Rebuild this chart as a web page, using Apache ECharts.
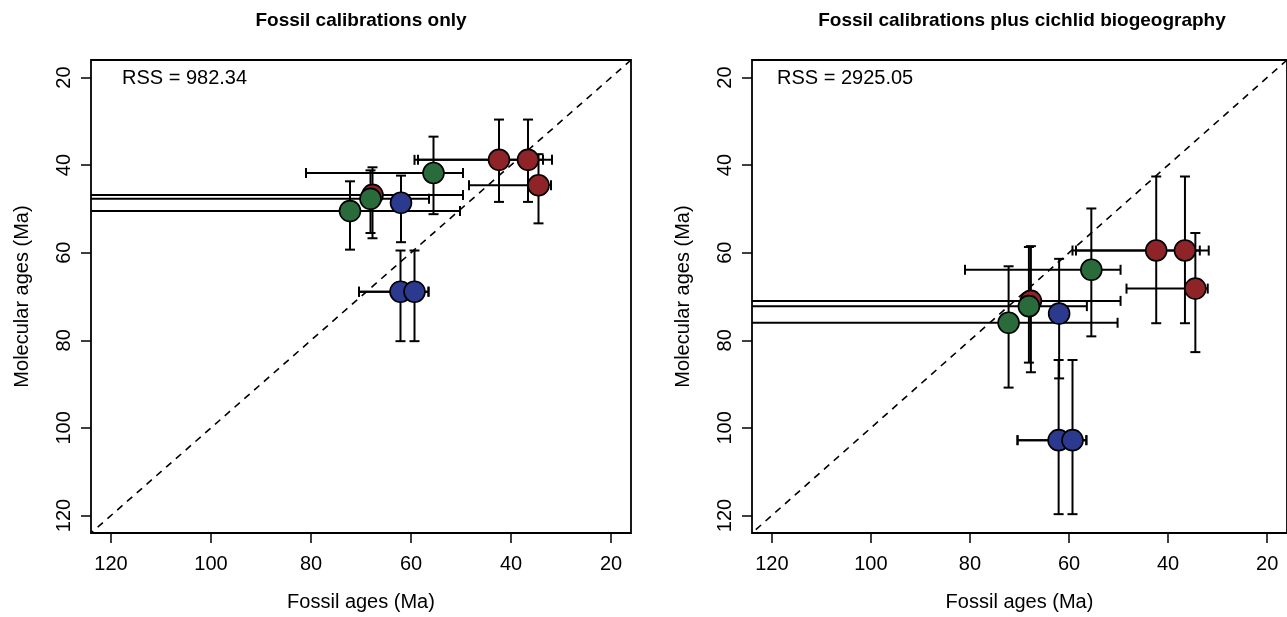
<!DOCTYPE html>
<html>
<head>
<meta charset="utf-8">
<script src="https://cdn.jsdelivr.net/npm/echarts@6/dist/echarts.min.js"></script>
<style>
html,body{margin:0;padding:0;background:#fff;}
#chart{width:1287px;height:617px;}
</style>
</head>
<body>
<div id="chart"></div>
<script>
// ---- data ----
const pointNames  = ['A1','A2','A3','A4','G1','G2','G3','B1','B2','B3'];
const pointGroup  = ['red','red','red','red','green','green','green','blue','blue','blue'];
const fossilAge   = [42.4, 36.6, 34.5, 67.7, 55.5, 68.1, 72.2, 62.0, 62.1, 59.3];
const fossilOld   = [59.3, 58.6, 48.4, 150,  81.0, 150,  150,  null, 70.4, 70.4];
const fossilYoung = [33.6, 31.8, 32.0, 49.6, 49.6, 56.4, 50.2, null, 56.5, 56.5];
// panel 1: fossil calibrations only
const molOnly     = [38.8, 38.8, 44.6, 46.8, 41.8, 47.7, 50.5, 48.6, 68.9, 68.9];
const molOnlyLo   = [29.6, 29.6, 37.5, 40.5, 33.5, 41.2, 43.7, 42.4, 59.5, 59.5];
const molOnlyHi   = [48.4, 48.4, 53.3, 56.7, 51.2, 55.5, 59.3, 57.6, 80.2, 80.2];
// panel 2: fossil calibrations plus cichlid biogeography
const molBio      = [59.5, 59.5, 68.2, 71.0, 63.9, 72.2, 76.0, 73.9, 102.8, 102.8];
const molBioLo    = [42.6, 42.6, 55.5, 58.5, 49.9, 58.7, 63.1, 61.4, 84.5, 84.5];
const molBioHi    = [76.1, 76.1, 82.7, 87.3, 79.1, 85.1, 90.8, 88.7, 119.7, 119.7];
const tickValues  = [20, 40, 60, 80, 100, 120];
const panelTitles = ['Fossil calibrations only', 'Fossil calibrations plus cichlid biogeography'];
const rssLabels   = ['RSS = 982.34', 'RSS = 2925.05'];
const axisRange   = [16, 124];

const groupColors = {red:'#8E2427', green:'#2A6B3B', blue:'#2B3A8F'};
const FONT = "'Liberation Sans', Arial, Helvetica, sans-serif";

const chart = echarts.init(document.getElementById('chart'), null, {renderer:'canvas'});

const gridLeft = [91, 752];
const gridTop = 60, gridW = 540, gridH = 478;

function xAxisDef(i){
  return {
    gridIndex:i, type:'value', min:axisRange[0], max:axisRange[1], inverse:true,
    axisLine:{show:false},
    axisTick:{show:true, length:10, customValues:tickValues, lineStyle:{color:'#000', width:1.5}},
    axisLabel:{customValues:tickValues, fontSize:20, color:'#000', fontFamily:FONT, margin:21},
    splitLine:{show:false},
    name:'Fossil ages (Ma)', nameLocation:'middle', nameGap:59,
    nameTextStyle:{fontSize:20, color:'#000', fontFamily:FONT}
  };
}
function yAxisDef(i){
  return {
    gridIndex:i, type:'value', min:axisRange[0], max:axisRange[1], inverse:true,
    axisLine:{show:false},
    axisTick:{show:true, length:10, customValues:tickValues, lineStyle:{color:'#000', width:1.5}},
    axisLabel:{customValues:tickValues, fontSize:20, color:'#000', fontFamily:FONT, margin:17, rotate:90},
    splitLine:{show:false},
    name:'Molecular ages (Ma)', nameLocation:'middle', nameGap:59,
    nameTextStyle:{fontSize:20, color:'#000', fontFamily:FONT}
  };
}

function barSeries(i, mol, lo, hi){
  const data = fossilAge.map((x,k)=>[x, mol[k],
      fossilOld[k]==null?NaN:fossilOld[k], fossilYoung[k]==null?NaN:fossilYoung[k], lo[k], hi[k]]);
  return {
    type:'custom', xAxisIndex:i, yAxisIndex:i, z:2, silent:true,
    data:data,
    renderItem:function(params, api){
      const cs = params.coordSys;
      const xmin = cs.x, xmax = cs.x + cs.width, ymin = cs.y, ymax = cs.y + cs.height;
      const x = api.value(0), y = api.value(1);
      const c = api.coord([x, y]);
      const cap = 5;
      const st = {stroke:'#000', lineWidth:2, fill:null};
      const ch = [];
      const seg = (x1,y1,x2,y2)=>ch.push({type:'line', shape:{x1:x1,y1:y1,x2:x2,y2:y2}, style:st});
      const lo = api.value(4), hi = api.value(5);
      if (isFinite(lo) && isFinite(hi)) {
        let p1 = api.coord([x, lo])[1], p2 = api.coord([x, hi])[1];
        let cap1 = true, cap2 = true;
        if (p1 < ymin) {p1 = ymin; cap1 = false;}
        if (p2 > ymax) {p2 = ymax; cap2 = false;}
        seg(c[0], p1, c[0], p2);
        if (cap1) seg(c[0]-cap, p1, c[0]+cap, p1);
        if (cap2) seg(c[0]-cap, p2, c[0]+cap, p2);
      }
      const xo = api.value(2), xy = api.value(3);
      if (isFinite(xo) && isFinite(xy)) {
        let q1 = api.coord([xo, y])[0], q2 = api.coord([xy, y])[0];
        let cap1 = true, cap2 = true;
        if (q1 < xmin) {q1 = xmin; cap1 = false;}
        if (q2 > xmax) {q2 = xmax; cap2 = false;}
        seg(q1, c[1], q2, c[1]);
        if (cap1) seg(q1, c[1]-cap, q1, c[1]+cap);
        if (cap2) seg(q2, c[1]-cap, q2, c[1]+cap);
      }
      return {type:'group', children:ch};
    }
  };
}

function pointSeries(i, mol, group){
  const data = [];
  fossilAge.forEach((x,k)=>{ if (pointGroup[k]===group) data.push([x, mol[k]]); });
  return {
    type:'scatter', xAxisIndex:i, yAxisIndex:i, z:3, silent:true,
    symbol:'circle', symbolSize:21, data:data,
    itemStyle:{color:groupColors[group], borderColor:'#000', borderWidth:1.6, opacity:1}
  };
}

function diagSeries(i){
  return {
    type:'line', xAxisIndex:i, yAxisIndex:i, z:1, silent:true, showSymbol:false, symbol:'none',
    data:[[axisRange[0], axisRange[0]], [axisRange[1], axisRange[1]]],
    lineStyle:{color:'#000', width:1.6, type:[7,6]}
  };
}

const series = [];
[[molOnly, molOnlyLo, molOnlyHi],[molBio, molBioLo, molBioHi]].forEach((m,i)=>{
  series.push(diagSeries(i));
  series.push(barSeries(i, m[0], m[1], m[2]));
  ['red','green','blue'].forEach(g=>series.push(pointSeries(i, m[0], g)));
});

const graphics = [];
[0,1].forEach(i=>{
  graphics.push({type:'text', silent:true, style:{
    text:panelTitles[i], x:gridLeft[i]+gridW/2, y:21,
    font:'bold 19px '+FONT, fill:'#000',
    align:'center', verticalAlign:'middle', textAlign:'center', textVerticalAlign:'middle'}});
  graphics.push({type:'text', silent:true, style:{
    text:rssLabels[i], x:gridLeft[i]+31 - (i?6:0), y:78,
    font:'20px '+FONT, fill:'#000',
    align:'left', verticalAlign:'middle', textAlign:'left', textVerticalAlign:'middle'}});
});

chart.setOption({
  animation:false,
  backgroundColor:'#fff',
  grid:[0,1].map(i=>({left:gridLeft[i], top:gridTop, width:gridW, height:gridH,
        show:true, borderColor:'#000', borderWidth:1.8, backgroundColor:'transparent', containLabel:false})),
  xAxis:[xAxisDef(0), xAxisDef(1)],
  yAxis:[yAxisDef(0), yAxisDef(1)],
  series:series,
  graphic:{elements:graphics}
});
</script>
</body>
</html>
